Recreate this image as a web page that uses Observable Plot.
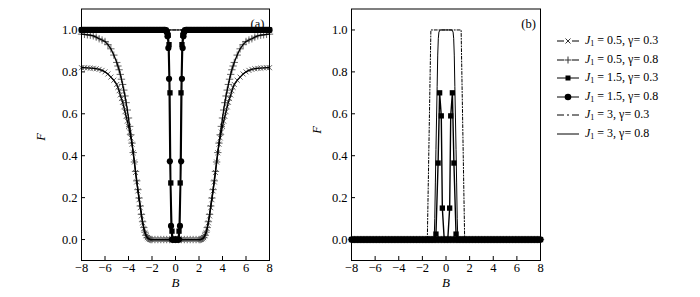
<!DOCTYPE html>
<html><head><meta charset="utf-8">
<script src="https://cdn.jsdelivr.net/npm/d3@7"></script>
<script src="https://cdn.jsdelivr.net/npm/@observablehq/plot@0.6"></script>
<style>
body{margin:0;background:#fff;}
#wrap{position:relative;width:700px;height:297px;font-family:"Liberation Serif",serif;color:#000;}
#pa{position:absolute;left:0;top:0;}
#pb{position:absolute;left:280px;top:0;}
#legend{position:absolute;left:556px;top:32px;font-size:12px;line-height:1;}
.row{height:18.5px;display:flex;align-items:center;white-space:nowrap;}
.row svg{margin-right:5px;flex:none;}
sub{font-size:8px;vertical-align:-2px;}
</style></head><body>
<div id="wrap"><div id="pa"></div><div id="pb"></div><div id="legend"></div></div>
<script>
// ---------- data ----------
const X_TICKS = [-8,-6,-4,-2,0,2,4,6,8];
const Y_TICKS = [0,0.2,0.4,0.6,0.8,1.0];
const PANEL_LABELS = ["(a)", "(b)"];
const LEGEND_J1 = ["0.5","0.5","1.5","1.5","3","3"];
const LEGEND_GAMMA = ["0.3","0.8","0.3","0.8","0.3","0.8"];

// dense sampling of the flat stretches (|B| >= 1)
const B_OUTER_L = [-8,-7.875,-7.75,-7.625,-7.5,-7.375,-7.25,-7.125,-7,-6.875,-6.75,-6.625,-6.5,-6.375,-6.25,-6.125,-6,-5.875,-5.75,-5.625,-5.5,-5.375,-5.25,-5.125,-5,-4.875,-4.75,-4.625,-4.5,-4.375,-4.25,-4.125,-4,-3.875,-3.75,-3.625,-3.5,-3.375,-3.25,-3.125,-3,-2.875,-2.75,-2.625,-2.5,-2.375,-2.25,-2.125,-2,-1.875,-1.75,-1.625,-1.5,-1.375,-1.25,-1.125,-1];
const B_OUTER_R = [1,1.125,1.25,1.375,1.5,1.625,1.75,1.875,2,2.125,2.25,2.375,2.5,2.625,2.75,2.875,3,3.125,3.25,3.375,3.5,3.625,3.75,3.875,4,4.125,4.25,4.375,4.5,4.625,4.75,4.875,5,5.125,5.25,5.375,5.5,5.625,5.75,5.875,6,6.125,6.25,6.375,6.5,6.625,6.75,6.875,7,7.125,7.25,7.375,7.5,7.625,7.75,7.875,8];
const B_MID = [-0.875,-0.75,-0.625,-0.5,-0.375,-0.25,-0.125,0,0.125,0.25,0.375,0.5,0.625,0.75,0.875];
const ONES_57 = [1,1,1,1,1,1,1,1,1,1, 1,1,1,1,1,1,1,1,1,1, 1,1,1,1,1,1,1,1,1,1, 1,1,1,1,1,1,1,1,1,1, 1,1,1,1,1,1,1,1,1,1, 1,1,1,1,1,1,1];
const ZEROS_57 = [0,0,0,0,0,0,0,0,0,0, 0,0,0,0,0,0,0,0,0,0, 0,0,0,0,0,0,0,0,0,0, 0,0,0,0,0,0,0,0,0,0, 0,0,0,0,0,0,0,0,0,0, 0,0,0,0,0,0,0];
const ZEROS_15 = [0,0,0,0,0,0,0,0,0,0,0,0,0,0,0];

// J1 = 0.5 sample grid (panel a)
const B_J05 = [-8,-7.75,-7.5,-7.25,-7,-6.75,-6.5,-6.25,-6,-5.75,-5.5,-5.25,
  -5,-4.9,-4.8,-4.7,-4.6,-4.5,-4.4,-4.3,-4.2,-4.1,-4,-3.9,-3.8,-3.7,-3.6,-3.5,-3.4,-3.3,-3.2,-3.1,-3,-2.9,-2.8,-2.7,-2.6,-2.5,-2.4,-2.3,-2.2,-2.1,-2,
  -1.75,-1.5,-1.25,-1,-0.75,-0.5,-0.25,0,0.25,0.5,0.75,1,1.25,1.5,1.75,
  2,2.1,2.2,2.3,2.4,2.5,2.6,2.7,2.8,2.9,3,3.1,3.2,3.3,3.4,3.5,3.6,3.7,3.8,3.9,4,4.1,4.2,4.3,4.4,4.5,4.6,4.7,4.8,4.9,5,
  5.25,5.5,5.75,6,6.25,6.5,6.75,7,7.25,7.5,7.75,8];
// panel a: J1=0.5, gamma=0.3
const F_A_05_03 = [0.82,0.82,0.819,0.818,0.817,0.815,0.812,0.807,0.8,0.79,0.775,0.76,
  0.74,0.726,0.71,0.69,0.673,0.655,0.633,0.61,0.588,0.565,0.54,0.513,0.485,0.455,0.414,0.37,0.32,0.275,0.232,0.19,0.152,0.113,0.08,0.052,0.032,0.018,0.009,0.004,0.001,0,0,
  0,0,0,0,0,0,0,0,0,0,0,0,0,0,0,
  0,0,0.001,0.004,0.009,0.018,0.032,0.052,0.08,0.113,0.152,0.19,0.232,0.275,0.32,0.37,0.414,0.455,0.485,0.513,0.54,0.565,0.588,0.61,0.633,0.655,0.673,0.69,0.71,0.726,0.74,
  0.76,0.775,0.79,0.8,0.807,0.812,0.815,0.817,0.818,0.819,0.82,0.82];
// panel a: J1=0.5, gamma=0.8
const F_A_05_08 = [0.98,0.979,0.977,0.975,0.972,0.966,0.958,0.952,0.945,0.93,0.91,0.88,
  0.845,0.828,0.81,0.788,0.765,0.74,0.713,0.685,0.653,0.618,0.58,0.54,0.5,0.46,0.415,0.37,0.325,0.28,0.238,0.198,0.16,0.12,0.085,0.057,0.035,0.02,0.01,0.005,0.002,0,0,
  0,0,0,0,0,0,0,0,0,0,0,0,0,0,0,
  0,0,0.002,0.005,0.01,0.02,0.035,0.057,0.085,0.12,0.16,0.198,0.238,0.28,0.325,0.37,0.415,0.46,0.5,0.54,0.58,0.618,0.653,0.685,0.713,0.74,0.765,0.788,0.81,0.828,0.845,
  0.88,0.91,0.93,0.945,0.952,0.958,0.966,0.972,0.975,0.977,0.979,0.98];
// panel a: J1=1.5
const B_A_15_03_MID = [-0.9,-0.8,-0.7,-0.62,-0.55,-0.47,-0.4,-0.3,-0.2,-0.1,0,0.1,0.2,0.3,0.4,0.47,0.55,0.62,0.7,0.8,0.9];
const F_A_15_03_MID = [1,0.998,0.99,0.975,0.93,0.7,0.27,0.04,0,0,0,0,0,0.04,0.27,0.7,0.93,0.975,0.99,0.998,1];
const B_A_15_08_MID = [-0.9,-0.82,-0.75,-0.68,-0.61,-0.55,-0.48,-0.38,-0.3,-0.2,-0.1,0,0.1,0.2,0.3,0.38,0.48,0.55,0.61,0.68,0.75,0.82,0.9];
const F_A_15_08_MID = [1,0.997,0.99,0.97,0.914,0.767,0.373,0.065,0,0,0,0,0,0,0,0.065,0.373,0.767,0.914,0.97,0.99,0.997,1];
// panel a: J1=3 (flat at 1)
const B_A_3 = [-8, 8];
const F_A_3_03 = [1, 1];
const F_A_3_08 = [1, 1];

// panel b: J1=1.5, gamma=0.3
const B_B_15_03_MID = [-0.85,-0.67,-0.54,-0.4,-0.31,-0.15,0,0.15,0.31,0.4,0.54,0.67,0.85];
const F_B_15_03_MID = [0.026,0.365,0.7,0.59,0.15,0,0,0,0.15,0.59,0.7,0.365,0.026];
// panel b: J1=3
const B_B_3_03 = [-8,-1.58,-1.52,-1.46,-1.4,-1.34,-1.28,1.28,1.34,1.4,1.46,1.52,1.58,8];
const F_B_3_03 = [0,0,0.2,0.4,0.6,0.8,1,1,0.8,0.6,0.4,0.2,0,0];
const B_B_3_08 = [-8,-1.1,-1,-0.95,-0.9,-0.85,-0.8,-0.75,-0.7,-0.65,-0.6,-0.5,0,0.5,0.6,0.65,0.7,0.75,0.8,0.85,0.9,0.95,1,1.1,8];
const F_B_3_08 = [0,0,0,0.1,0.27,0.43,0.58,0.73,0.88,0.96,0.99,1,1,1,0.99,0.96,0.88,0.73,0.58,0.43,0.27,0.1,0,0,0];

// ---------- build ----------
const rows = (B, F) => B.map((b, i) => ({B: b, F: F[i]}));
const GRID = [...B_OUTER_L, ...B_MID, ...B_OUTER_R];
const ZGRID = [...ZEROS_57, ...ZEROS_15, ...ZEROS_57];

const STYLES = [
  {symbol: "times", r: 2.4, stroke: "#555", fill: "none", sw: 0.9, line: {strokeWidth: 1.3}},
  {symbol: "plus", r: 2.5, stroke: "#555", fill: "none", sw: 0.9, line: {strokeWidth: 1.3}},
  {symbol: "square", r: 3.0, stroke: "none", fill: "#000", line: {strokeWidth: 1.4}},
  {symbol: "circle", r: 3.1, stroke: "none", fill: "#000", line: {strokeWidth: 1.4}},
  {symbol: null, line: {strokeWidth: 1, strokeDasharray: "3,1.8,1,1.8"}},
  {symbol: null, line: {strokeWidth: 1}}
];

const panelA = [
  rows(B_J05, F_A_05_03),
  rows(B_J05, F_A_05_08),
  rows([...B_OUTER_L, ...B_A_15_03_MID, ...B_OUTER_R], [...ONES_57, ...F_A_15_03_MID, ...ONES_57]),
  rows([...B_OUTER_L, ...B_A_15_08_MID, ...B_OUTER_R], [...ONES_57, ...F_A_15_08_MID, ...ONES_57]),
  rows(B_A_3, F_A_3_03),
  rows(B_A_3, F_A_3_08)
];
const panelB = [
  rows(GRID, ZGRID),
  rows(GRID, ZGRID),
  rows([...B_OUTER_L, ...B_B_15_03_MID, ...B_OUTER_R], [...ZEROS_57, ...F_B_15_03_MID, ...ZEROS_57]),
  rows(GRID, ZGRID),
  rows(B_B_3_03, F_B_3_03),
  rows(B_B_3_08, F_B_3_08)
];

function seriesMarks(data) {
  const marks = [];
  [0, 1].forEach(i => {
    const s = STYLES[i];
    marks.push(Plot.dot(data[i], {x: "B", y: "F", symbol: s.symbol, r: s.r, stroke: s.stroke, strokeWidth: s.sw, fill: s.fill}));
  });
  [0, 1].forEach(i => marks.push(Plot.line(data[i], {x: "B", y: "F", stroke: "#000", ...STYLES[i].line})));
  [2, 3].forEach(i => marks.push(Plot.line(data[i], {x: "B", y: "F", stroke: "#000", ...STYLES[i].line})));
  [2, 3].forEach(i => {
    const s = STYLES[i];
    marks.push(Plot.dot(data[i], {x: "B", y: "F", symbol: s.symbol, r: s.r, fill: s.fill, stroke: s.stroke}));
  });
  [4, 5].forEach(i => marks.push(Plot.line(data[i], {x: "B", y: "F", stroke: "#000", ...STYLES[i].line})));
  return marks;
}

function makePanel(data, label, o) {
  return Plot.plot({
    width: o.width, height: 297,
    marginLeft: o.ml, marginRight: o.mr, marginTop: 8.5, marginBottom: 37,
    x: {domain: [-8, 8]},
    y: {domain: [-0.1, 1.1]},
    style: {fontFamily: "'Liberation Serif', serif", fontSize: "12.5px", color: "#000", background: "transparent", overflow: "visible"},
    marks: [
      ...seriesMarks(data),
      Plot.frame({stroke: "#000", strokeWidth: 1}),
      Plot.axisX(X_TICKS, {tickSize: 0, tickPadding: 3, label: null}),
      Plot.axisX(X_TICKS, {tickSize: 4, text: null, dy: -4, label: null}),
      Plot.axisY(Y_TICKS, {tickSize: 0, tickPadding: 4, tickFormat: d3.format(".1f"), label: null}),
      Plot.axisY(Y_TICKS, {tickSize: 4, text: null, dx: 4, label: null}),
      Plot.text(["B"], {text: d => d, frameAnchor: "bottom", dy: 26, fontStyle: "italic", fontSize: 13}),
      Plot.text(["F"], {text: d => d, frameAnchor: "left", dx: o.fdx, dy: o.fdy, rotate: -90, fontStyle: "italic", fontSize: 12.5}),
      Plot.text([label], {text: d => d, frameAnchor: "top-right", dx: -12, dy: 10, textAnchor: "middle", fontSize: 12.5})
    ]
  });
}

document.getElementById("pa").append(makePanel(panelA, PANEL_LABELS[0], {width: 280, ml: 81, mr: 11, fdx: -41, fdy: 6}));
document.getElementById("pb").append(makePanel(panelB, PANEL_LABELS[1], {width: 270, ml: 71, mr: 10, fdx: -35, fdy: -1}));

// ---------- legend ----------
function swatch(i) {
  const ns = "http://www.w3.org/2000/svg";
  const svg = document.createElementNS(ns, "svg");
  svg.setAttribute("width", 24); svg.setAttribute("height", 10);
  const y = 5;
  const line = (x1, x2) => {
    const l = document.createElementNS(ns, "line");
    l.setAttribute("x1", x1); l.setAttribute("x2", x2); l.setAttribute("y1", y); l.setAttribute("y2", y);
    l.setAttribute("stroke", "#000"); l.setAttribute("stroke-width", 1);
    svg.append(l);
  };
  if (i === 0 || i === 1) {
    line(1, 8); line(16, 23);
    const p = document.createElementNS(ns, "path");
    p.setAttribute("d", i === 0 ? "M9.5,2.5L14.5,7.5M14.5,2.5L9.5,7.5" : "M12,1.5V8.5M8.5,5H15.5");
    p.setAttribute("stroke", "#333"); p.setAttribute("stroke-width", 1); p.setAttribute("fill", "none");
    svg.append(p);
  } else if (i === 2) {
    line(1, 23);
    const r = document.createElementNS(ns, "rect");
    r.setAttribute("x", 9.5); r.setAttribute("y", 2.5); r.setAttribute("width", 5); r.setAttribute("height", 5);
    svg.append(r);
  } else if (i === 3) {
    line(1, 23);
    const c = document.createElementNS(ns, "circle");
    c.setAttribute("cx", 12); c.setAttribute("cy", 5); c.setAttribute("r", 3.3);
    svg.append(c);
  } else if (i === 4) {
    line(1, 8); line(11, 13); line(16, 23);
  } else {
    line(1, 23);
  }
  return svg;
}
const legend = document.getElementById("legend");
LEGEND_J1.forEach((j, i) => {
  const row = document.createElement("div");
  row.className = "row";
  row.append(swatch(i));
  const t = document.createElement("span");
  t.innerHTML = `<i>J</i><sub>1</sub> = ${j}, γ= ${LEGEND_GAMMA[i]}`;
  row.append(t);
  legend.append(row);
});
</script>
</body></html>
